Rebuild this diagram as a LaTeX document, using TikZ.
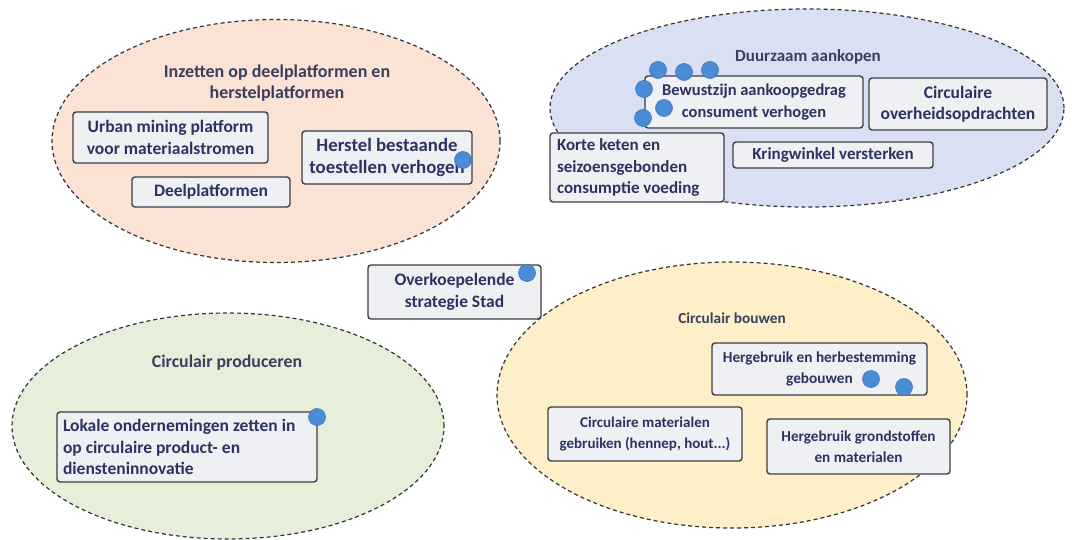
\documentclass[tikz,border=0pt]{standalone}
\usepackage{fontspec}
\setmainfont{Carlito}
\usetikzlibrary{shapes.geometric}
\definecolor{txt}{HTML}{2C3263}
\definecolor{lbl}{HTML}{3A3F5E}
\definecolor{peach}{HTML}{FAE2D4}
\definecolor{lav}{HTML}{DAE0F3}
\definecolor{sage}{HTML}{E5EFD9}
\definecolor{butter}{HTML}{FEEFC8}
\definecolor{boxfill}{HTML}{EFF0F3}
\definecolor{boxline}{HTML}{3E3E42}
\definecolor{dotblue}{HTML}{4B8CD6}
\definecolor{dotline}{HTML}{3A74BC}
\tikzset{
  fs/.style={font=\bfseries\fontsize{#1}{21.5}\selectfont},
  zone/.style={ellipse, draw=black!80, line width=1.2pt, dash pattern=on 4pt off 3pt, inner sep=0pt},
  zlabel/.style={fs=17.5, text=lbl, align=center, inner sep=0pt},
  card/.style={draw=boxline, line width=1.4pt, fill=boxfill, rounded corners=3pt, fs=17.5, text=txt, align=center, inner sep=2pt},
  lcard/.style={card, align=flush left},
  bdot/.style={circle, fill=dotblue, draw=dotline, line width=0.6pt, minimum size=17pt, inner sep=0pt},
}
\begin{document}
\begin{tikzpicture}[x=1pt,y=-1pt]
\useasboundingbox (0,0) rectangle (1091,540);
% zones
\node[zone, fill=peach, minimum width=448pt, minimum height=243pt] (zA) at (276,141) {};
\node[zone, fill=lav, minimum width=514pt, minimum height=198pt] (zB) at (807,108) {};
\node[zone, fill=sage, minimum width=432pt, minimum height=226pt] (zC) at (228,426) {};
\node[zone, fill=butter, minimum width=470pt, minimum height=266pt] (zD) at (732,395) {};
% zone labels
\node[zlabel, fs=18] (lA) at (277,83) {Inzetten op deelplatformen en\\herstelplatformen};
\node[zlabel, fs=17] (lB) at (808,57) {Duurzaam aankopen};
\node[zlabel, fs=17.8] (lC) at (227,363) {Circulair produceren};
\node[zlabel, fs=15.3] (lD) at (732,318) {Circulair bouwen};
% cards zone A
\node[card, minimum width=195pt, minimum height=51pt] (a1) at (170.5,137.5) {Urban mining platform\\voor materiaalstromen};
\node[card, minimum width=158pt, minimum height=30pt] (a2) at (211,192) {Deelplatformen};
\node[card, fs=18.8, minimum width=170pt, minimum height=53pt] (a3) at (387,157.5) {Herstel bestaande\\toestellen verhogen};
% cards zone B
\node[card, fs=16.5, minimum width=218pt, minimum height=52pt] (b1) at (754,102) {Bewustzijn aankoopgedrag\\consument verhogen};
\node[card, minimum width=178pt, minimum height=52pt] (b2) at (958,104) {Circulaire\\overheidsopdrachten};
\node[lcard, fs=17, minimum width=174pt, minimum height=69pt, text width=160pt] (b3) at (637,167.5) {Korte keten en\\seizoensgebonden\\consumptie voeding};
\node[card, fs=17, minimum width=200pt, minimum height=26pt] (b4) at (833,155) {Kringwinkel versterken};
% centre card
\node[card, minimum width=173pt, minimum height=54pt] (c0) at (454.5,292) {Overkoepelende\\strategie Stad};
% zone C
\node[lcard, minimum width=260pt, minimum height=70pt, text width=248pt] (c1) at (187,447) {Lokale ondernemingen zetten in\\op circulaire product- en\\diensteninnovatie};
% zone D
\node[card, fs=15.3, minimum width=215pt, minimum height=52pt] (d1) at (819.5,369) {Hergebruik en herbestemming\\gebouwen};
\node[card, fs=15, minimum width=194pt, minimum height=54pt] (d2) at (645,434) {Circulaire materialen\\gebruiken (hennep, hout...)};
\node[card, fs=15.2, minimum width=183pt, minimum height=55pt] (d3) at (858.5,446.5) {Hergebruik grondstoffen\\en materialen};
% blue dots
\node[bdot] (p1) at (463,160) {};
\node[bdot] (p2) at (658,70) {};
\node[bdot] (p3) at (684,72) {};
\node[bdot] (p4) at (710,70) {};
\node[bdot] (p5) at (644,89) {};
\node[bdot] (p6) at (664,108) {};
\node[bdot] (p7) at (643,118) {};
\node[bdot] (p8) at (527,273) {};
\node[bdot] (p9) at (317,417) {};
\node[bdot] (p10) at (871,379) {};
\node[bdot] (p11) at (904,387) {};
\end{tikzpicture}
\end{document}
